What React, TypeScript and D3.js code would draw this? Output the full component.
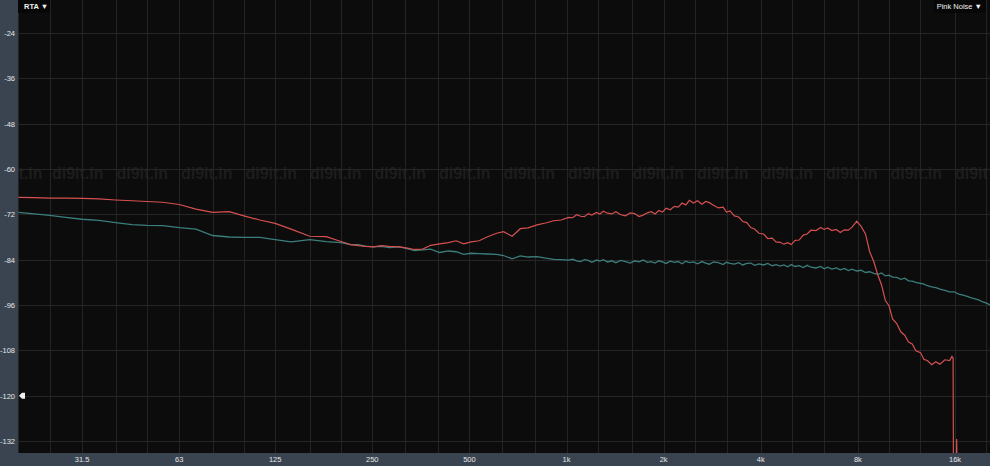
import React from "react";
import * as d3 from "d3";

const W = 990;
const H = 466;

// Frequencies (Hz) shared by both traces
const freqs = [
  20, 22.4, 25, 28, 31.5, 35.5, 40, 45, 50, 56, 63, 71, 80, 90, 100, 112, 125, 140, 160, 180, 200,
  214, 226, 238, 252, 267, 282, 303, 318, 338, 358, 379, 404, 430, 455, 480, 506, 536, 567, 607,
  638, 678, 719, 760, 810, 861, 912, 963, 1014,
  1045, 1075, 1106, 1136, 1167, 1198, 1238, 1269, 1300, 1340,
  1381, 1422, 1473, 1524, 1575, 1626, 1677, 1728, 1779, 1830,
  1881, 1932, 1983, 2035, 2096, 2157, 2218, 2280, 2341, 2403,
  2474, 2546, 2628, 2699, 2771, 2853, 2955, 3057, 3129, 3211,
  3313, 3416, 3518, 3620, 3723, 3825, 3948, 4081, 4204, 4338,
  4461, 4594, 4717, 4850, 4973, 5107, 5261, 5415, 5569, 5723,
  5928, 6133, 6287, 6441, 6646, 6852, 7057, 7263, 7468, 7674,
  7930, 8187, 8444, 8701, 8958, 9215, 9473, 9730, 9987, 10244,
  10553, 10862, 11171, 11479, 11788, 12097, 12509, 12818, 13128, 13540,
  13952, 14364, 14878, 15393,
  15909, 16424, 16939, 17455, 17970, 18486, 19002, 19518, 20034, 20550,
];

// Red trace (dB), for freqs up to ~15.4 kHz
const redDb = [
  -67.5, -67.6, -67.7, -67.7, -67.8, -67.9, -68.2, -68.4, -68.6, -68.8, -69.4, -70.6, -71.5, -71.3,
  -72.4, -73.5, -74.4, -75.9, -77.8, -77.9, -79.2,
  -80.0, -80.3, -80.5, -80.6, -80.3, -80.5, -80.6, -80.9, -81.3, -81.2, -80.2, -79.8, -79.5, -79.0,
  -79.8, -79.3, -79.0, -78.0, -77.0, -76.6, -77.8, -75.8, -75.6, -74.8, -74.3, -73.7, -73.5, -72.8,
  -72.9, -72.1, -72.5, -72.6, -71.8, -72.2, -71.5, -71.9, -71.2, -71.7,
  -71.9, -71.3, -72.1, -72.4, -71.6, -71.8, -72.6, -72.2, -71.6, -71.3,
  -71.9, -71.0, -71.4, -70.4, -70.8, -69.9, -70.1, -69.0, -69.5, -68.3,
  -69.0, -68.4, -69.3, -68.6, -68.9, -69.6, -70.3, -70.1, -71.4, -71.1,
  -72.4, -72.7, -73.9, -74.2, -75.5, -75.9, -77.0, -77.2, -78.4, -78.3,
  -79.3, -79.4, -79.9, -79.5, -80.0, -78.9, -78.8, -77.5, -77.2, -76.2,
  -76.3, -75.5, -76.0, -75.6, -76.3, -76.0, -76.8, -76.1, -76.2, -75.4,
  -73.8, -75.2, -77.2, -81.9, -84.5, -88.0, -90.7, -94.8, -96.2, -99.7,
  -100.9, -103.1, -104.0, -105.8, -106.3, -108.1, -108.6, -110.4, -110.7, -111.8,
  -111.0, -111.7, -110.5, -110.7,
];
// Red trace beyond ~15.4 kHz (falls below the floor of the display)
const redTailFreq = [15650, 15780, 15820, 16150, 16190, 16230, 16400, 20550];
const redTailDb = [-109.6, -110.1, -140, -140, -131.5, -140, -140, -140];

// Teal trace (dB), all freqs
const tealDb = [
  -71.5, -71.9, -72.3, -72.8, -73.3, -73.6, -74.2, -74.7, -74.9, -75.0, -75.5, -75.9, -77.6, -78.0,
  -78.1, -78.1, -78.7, -79.3, -78.7, -79.2, -79.5,
  -80.0, -80.0, -80.4, -80.6, -80.5, -80.8, -80.6, -81.0, -81.6, -81.4, -81.2, -82.1, -81.7, -81.9,
  -82.6, -82.3, -82.4, -82.5, -82.6, -82.9, -83.8, -83.0, -83.3, -83.2, -83.6, -83.9, -84.0, -84.1,
  -83.9, -84.3, -84.5, -84.0, -84.2, -84.7, -84.1, -84.4, -84.0, -84.6,
  -84.3, -84.8, -84.2, -84.5, -84.9, -84.3, -84.6, -84.1, -84.7, -84.5,
  -84.9, -84.3, -84.6, -85.0, -84.4, -84.7, -84.5, -85.1, -84.4, -84.8,
  -84.6, -85.1, -84.5, -84.9, -85.2, -84.6, -84.8, -85.3, -84.7, -85.0,
  -85.2, -84.8, -85.4, -85.0, -84.9, -85.5, -85.1, -85.4, -85.0, -85.6,
  -85.3, -85.7, -85.4, -85.9, -85.3, -85.8, -85.6, -86.1, -85.5, -86.0,
  -86.2, -85.8, -86.4, -86.0, -86.5, -86.2, -86.7, -86.3, -86.9, -86.5,
  -87.0, -86.8, -87.4, -87.2, -87.6, -87.9, -87.5, -88.3, -88.1, -88.6,
  -88.7, -89.2, -88.9, -89.6, -89.7, -90.0, -90.3, -90.5, -90.9, -91.2,
  -91.4, -91.8, -92.1, -92.5,
  -92.5, -93.1, -93.4, -93.7, -94.1, -94.4, -94.7, -95.2, -95.5, -96.0,
];

const yTicks = [-24, -36, -48, -60, -72, -84, -96, -108, -120, -132];
const xTickFreqs = [31.5, 63, 125, 250, 500, 1000, 2000, 4000, 8000, 16000];
const xTickLabels = ["31.5", "63", "125", "250", "500", "1k", "2k", "4k", "8k", "16k"];
const gridFreqs = [
  20, 25, 31.5, 40, 50, 63, 80, 100, 125, 160, 200, 250, 315, 400, 500, 630, 800, 1000, 1250,
  1600, 2000, 2500, 3150, 4000, 5000, 6300, 8000, 10000, 12500, 16000, 20000,
];
const watermarkText = "di9it.in";
const watermarkLeftPart = "t.in";
const watermarkRightPart = "di9it";
const watermarkCount = 14;
const markerLevel = -120;

const PLOT_L = 18;
const PLOT_R = 990;
const PLOT_B = 453;

export default function App() {
  React.useEffect(() => {
    document.body.style.margin = "0";
  }, []);

  const x = d3.scaleLog().domain([20, 20000]).range([18.4, 986.3]);
  const y = d3.scaleLinear().domain([-24, -132]).range([33, 441]);

  const tealPts: [number, number][] = freqs.map((f, i) => [f, tealDb[i]]);
  const redPts: [number, number][] = redDb
    .map((v, i) => [freqs[i], v] as [number, number])
    .concat(redTailFreq.map((f, i) => [f, redTailDb[i]] as [number, number]));

  const line = d3
    .line<[number, number]>()
    .x((d) => x(d[0]))
    .y((d) => y(d[1]));

  const font = "'Liberation Sans', Arial, sans-serif";
  const panel = "#3a4451";
  const wmStart = 52;
  const wmStep = 64.5;
  const wmColor = "#1d1d1d";

  return (
    <svg
      width={W}
      height={H}
      style={{ display: "block", position: "absolute", left: 0, top: 0 }}
    >
      <defs>
        <clipPath id="plot">
          <rect x={PLOT_L} y={0} width={PLOT_R - PLOT_L} height={PLOT_B} />
        </clipPath>
      </defs>
      <rect x={0} y={0} width={W} height={H} fill={panel} />
      <rect x={PLOT_L} y={0} width={PLOT_R - PLOT_L} height={PLOT_B} fill="#0c0c0c" />

      <g clipPath="url(#plot)">
        {/* watermark */}
        <text x={18.5} y={179} fontFamily={font} fontWeight="bold" fontSize={16} fill={wmColor}>
          {watermarkLeftPart}
        </text>
        {d3.range(watermarkCount).map((k) => (
          <text
            key={"wm" + k}
            x={wmStart + k * wmStep}
            y={179}
            fontFamily={font}
            fontWeight="bold"
            fontSize={16}
            fill={wmColor}
          >
            {watermarkText}
          </text>
        ))}
        <text
          x={wmStart + watermarkCount * wmStep}
          y={179}
          fontFamily={font}
          fontWeight="bold"
          fontSize={16}
          fill={wmColor}
        >
          {watermarkRightPart}
        </text>
        {/* grid */}
        {gridFreqs.map((f) => (
          <line
            key={"gx" + f}
            x1={Math.round(x(f)) + 0.5}
            x2={Math.round(x(f)) + 0.5}
            y1={0}
            y2={PLOT_B}
            stroke="#242424"
            strokeWidth={1}
          />
        ))}
        {yTicks.map((t) => (
          <line
            key={"gy" + t}
            x1={PLOT_L}
            x2={PLOT_R}
            y1={Math.round(y(t)) + 0.5}
            y2={Math.round(y(t)) + 0.5}
            stroke="#262626"
            strokeWidth={1}
          />
        ))}
        {/* top labels backgrounds */}
        <rect x={PLOT_L} y={0} width={32} height={13} fill="#070707" />
        <rect x={934} y={0} width={52} height={13} fill="#070707" />

        {/* traces */}
        <path d={line(tealPts) || ""} fill="none" stroke="#3c7e7b" strokeWidth={1.3} />
        <path d={line(redPts) || ""} fill="none" stroke="#d65050" strokeWidth={1.2} />
      </g>

      {/* y labels */}
      {yTicks.map((t) => (
        <text
          key={"yl" + t}
          x={15}
          y={y(t) + 3}
          textAnchor="end"
          fontFamily={font}
          fontSize={7.5}
          fill="#e6e6e6"
        >
          {t}
        </text>
      ))}
      {/* x labels */}
      {xTickFreqs.map((f, i) => (
        <text
          key={"xl" + f}
          x={x(f)}
          y={462}
          textAnchor="middle"
          fontFamily={font}
          fontSize={7.5}
          fill="#e6e6e6"
        >
          {xTickLabels[i]}
        </text>
      ))}

      {/* level marker */}
      <path
        d={`M${PLOT_L + 1},${y(markerLevel)} L${PLOT_L + 4},${y(markerLevel) - 3} L${PLOT_L + 7},${
          y(markerLevel) - 3
        } L${PLOT_L + 7},${y(markerLevel) + 3} L${PLOT_L + 4},${y(markerLevel) + 3} Z`}
        fill="#f0f0f0"
      />

      {/* top labels */}
      <text x={24} y={9} fontFamily={font} fontWeight="bold" fontSize={7.5} fill="#f2f2f2">
        RTA ▼
      </text>
      <text
        x={982}
        y={9}
        textAnchor="end"
        fontFamily={font}
        fontSize={7.5}
        fill="#f2f2f2"
      >
        Pink Noise ▼
      </text>
    </svg>
  );
}
